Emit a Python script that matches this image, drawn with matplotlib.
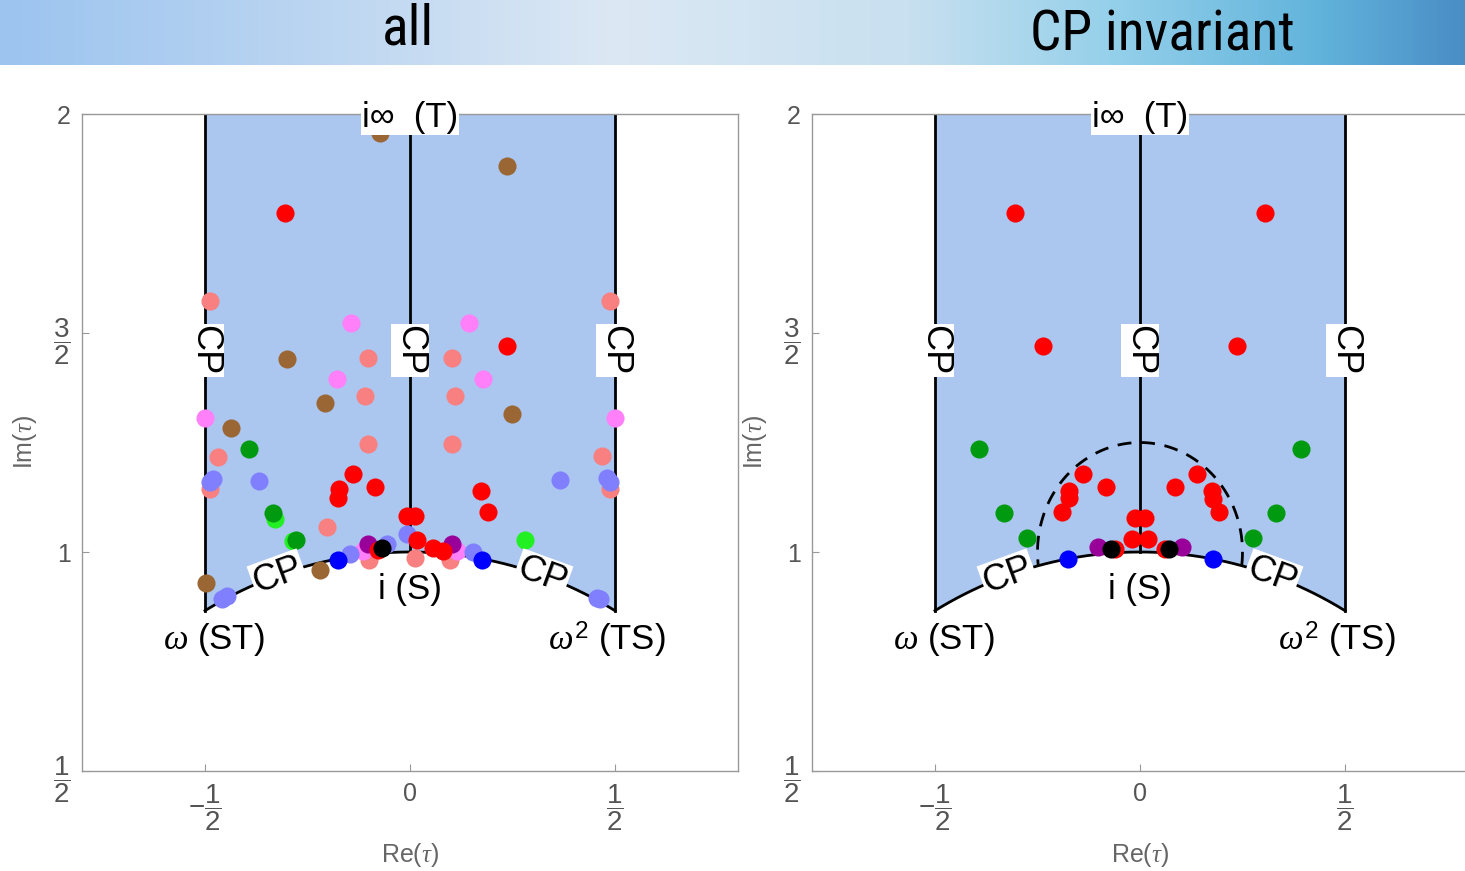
import matplotlib
matplotlib.use('Agg')
import matplotlib.pyplot as plt
import numpy as np
from matplotlib.colors import LinearSegmentedColormap

plt.rcParams['font.family'] = ['Liberation Sans', 'DejaVu Sans']
plt.rcParams['mathtext.fontset'] = 'custom'
plt.rcParams['mathtext.rm'] = 'Liberation Sans'
plt.rcParams['mathtext.it'] = 'Liberation Serif:italic'

# titles of the two panels
titles = ['all', 'CP invariant']

# tick positions and labels
x_ticks = [-0.5, 0, 0.5]
x_ticklabels = [r'$-\dfrac{1}{2}$', '0', r'$\dfrac{1}{2}$']
y_ticks = [0.5, 1, 1.5, 2]
y_ticklabels = [r'$\dfrac{1}{2}$', '1', r'$\dfrac{3}{2}$', '2']

# points of the "all" panel, one list per colour (Re tau, Im tau)
all_salmon = [(-0.488, 1.572), (0.488, 1.572), (-0.102, 1.442), (0.102, 1.442),
              (-0.110, 1.357), (0.110, 1.357), (-0.102, 1.247), (0.102, 1.247),
              (-0.468, 1.217), (0.468, 1.220), (-0.488, 1.144), (0.488, 1.144),
              (-0.202, 1.057), (-0.100, 0.982), (0.012, 0.986), (0.098, 0.982)]
all_pink = [(-0.144, 1.522), (0.144, 1.522), (-0.178, 1.396), (0.178, 1.396),
            (-0.5, 1.307), (0.5, 1.307), (-0.114, 1.003), (0.114, 1.003)]
all_brown = [(-0.073, 1.957), (0.237, 1.881), (-0.300, 1.440), (-0.207, 1.341),
             (0.249, 1.314), (-0.437, 1.284), (-0.220, 0.959), (-0.498, 0.929)]
all_lime = [(-0.330, 1.076), (-0.285, 1.024), (0.280, 1.027)]
all_green = [(-0.393, 1.236), (-0.334, 1.089), (-0.278, 1.027)]
all_lightblue = [(-0.488, 1.160), (-0.480, 1.167), (-0.368, 1.162), (0.366, 1.165),
                 (0.488, 1.160), (0.480, 1.168), (-0.007, 1.041), (-0.056, 1.018),
                 (-0.146, 0.995), (0.154, 1.000), (-0.459, 0.892), (-0.446, 0.899),
                 (0.456, 0.895), (0.463, 0.893)]
all_blue = [(-0.176, 0.982), (0.176, 0.982)]
all_purple = [(-0.102, 1.018), (0.102, 1.018)]
all_red = [(-0.305, 1.773), (0.237, 1.471), (-0.139, 1.178), (-0.085, 1.149),
           (-0.173, 1.144), (-0.176, 1.124), (0.173, 1.140), (0.190, 1.092),
           (-0.007, 1.082), (0.012, 1.082), (0.017, 1.027), (-0.078, 1.005),
           (0.056, 1.009), (0.080, 1.002)]
all_black = [(-0.068, 1.009)]

# points of the "CP invariant" panel
cp_green = [(-0.393, 1.236), (0.393, 1.236), (-0.332, 1.089), (0.332, 1.089),
            (-0.276, 1.032), (0.276, 1.032)]
cp_blue = [(-0.176, 0.984), (0.178, 0.984)]
cp_purple = [(-0.102, 1.011), (0.102, 1.011)]
cp_red = [(-0.305, 1.773), (0.305, 1.773), (-0.237, 1.471), (0.237, 1.471),
          (-0.139, 1.178), (0.139, 1.178), (-0.173, 1.140), (0.176, 1.140),
          (-0.173, 1.124), (0.178, 1.122), (-0.190, 1.092), (0.193, 1.092),
          (-0.083, 1.149), (0.085, 1.149), (-0.012, 1.078), (0.012, 1.078),
          (-0.020, 1.030), (0.020, 1.030), (-0.062, 1.007), (0.062, 1.007)]
cp_black = [(-0.071, 1.007), (0.071, 1.007)]

# dashed circle around i in the CP panel
circle_center = 1.0
circle_radius = 0.25

all_layers = [(all_salmon, '#f88080'), (all_pink, '#ff80f8'), (all_brown, '#9a6633'),
              (all_lime, '#22f022'), (all_green, '#009a10'), (all_lightblue, '#8080ff'),
              (all_blue, '#0000ff'), (all_purple, '#990099'), (all_red, '#ff0000'),
              (all_black, '#000000')]
cp_layers = [(cp_green, '#009a10'), (cp_blue, '#0000ff'), (cp_purple, '#990099'),
             (cp_red, '#ff0000'), (cp_black, '#000000')]

title_fonts = ['Liberation Sans Narrow', 'Roboto Condensed', 'Open Sans Condensed',
               'DejaVu Sans Condensed', 'DejaVu Sans']

fig = plt.figure(figsize=(14.65, 8.71), dpi=100)

# header banner
banner = fig.add_axes([0, 1 - 65 / 871, 1, 65 / 871])
cmap = LinearSegmentedColormap.from_list('banner', [
    (0.0, '#9cc4ef'), (0.2, '#b9d4f1'), (0.42, '#dce8f4'), (0.62, '#c8e0f0'),
    (0.76, '#95d0ea'), (0.9, '#62b4dc'), (1.0, '#4a8ec6')])
banner.imshow(np.linspace(0, 1, 512)[None, :], aspect='auto', cmap=cmap,
              extent=[0, 1, 0, 1])
banner.set_xlim(0, 1)
banner.set_ylim(0, 1)
banner.axis('off')
banner.text(408 / 1465, 0.55, titles[0], ha='center', va='center', fontsize=40,
            family=title_fonts)
banner.text(1162 / 1465, 0.46, titles[1], ha='center', va='center', fontsize=40,
            family=title_fonts)

ax1 = fig.add_axes([82 / 1465, 1 - 771 / 871, 656 / 1465, 657 / 871])
ax2 = fig.add_axes([812 / 1465, 1 - 771 / 871, 656 / 1465, 657 / 871])


def draw_domain(ax):
    t = np.linspace(np.pi / 3, 2 * np.pi / 3, 200)
    arc_x = np.cos(t)
    arc_y = np.sin(t)
    px = np.concatenate([[0.5], arc_x, [-0.5]])
    py = np.concatenate([[2], arc_y, [2]])
    ax.fill(px, py, color='#abc6ef', lw=0, zorder=1)
    ax.plot(arc_x, arc_y, color='black', lw=2, zorder=2)
    ax.plot([-0.5, -0.5], [np.sqrt(3) / 2, 2], color='black', lw=2, zorder=2)
    ax.plot([0.5, 0.5], [np.sqrt(3) / 2, 2], color='black', lw=2, zorder=2)
    ax.plot([0, 0], [1, 2], color='black', lw=2, zorder=2)

    box = dict(facecolor='white', edgecolor='none', pad=1)
    for xc in [-0.5, 0, 0.5]:
        ax.text(xc, 1.46, 'CP', rotation=-90, ha='center', va='center',
                fontsize=26, bbox=box, zorder=6)
    ax.text(-0.322, 0.947, 'CP', rotation=20, ha='center', va='center',
            fontsize=26, bbox=box, zorder=6)
    ax.text(0.322, 0.947, 'CP', rotation=-20, ha='center', va='center',
            fontsize=26, bbox=box, zorder=6)
    ax.text(0, 1.993, 'i\u221e  (T)', ha='center', va='center', fontsize=25,
            bbox=dict(facecolor='white', edgecolor='none', pad=1), zorder=6)
    ax.text(0, 0.915, 'i (S)', ha='center', va='center', fontsize=25, zorder=6)
    ax.text(-0.478, 0.80, r'$\omega$ (ST)', ha='center', va='center', fontsize=25, zorder=6)
    ax.text(0.48, 0.80, r'$\omega^2$ (TS)', ha='center', va='center', fontsize=25, zorder=6)

    ax.set_xlim(-0.8, 0.8)
    ax.set_ylim(0.5, 2)
    ax.set_xticks(x_ticks)
    ax.set_xticklabels(x_ticklabels)
    ax.set_yticks(y_ticks)
    ax.set_yticklabels(y_ticklabels)
    ax.tick_params(direction='in', length=5, width=0.8, color='#999999',
                   labelcolor='#555555', labelsize=18, pad=8)
    for lab in ax.get_xticklabels() + ax.get_yticklabels():
        if 'frac' in lab.get_text():
            lab.set_fontsize(20)
    for s in ax.spines.values():
        s.set_color('#999999')
        s.set_linewidth(1)
    ax.set_xlabel(r'Re($\tau$)', fontsize=18, color='#666666')
    ax.set_ylabel(r'Im($\tau$)', fontsize=18, color='#666666')
    ax.xaxis.set_label_coords(0.5, -0.106)
    ax.yaxis.set_label_coords(-0.066, 0.5)


def draw_points(ax, layers):
    for pts, col in layers:
        xs = [p[0] for p in pts]
        ys = [p[1] for p in pts]
        ax.scatter(xs, ys, s=170, color=col, linewidths=0, zorder=4)


draw_domain(ax1)
draw_points(ax1, all_layers)

draw_domain(ax2)
# dashed arc: circle around i, starting where it meets the unit circle
y_meet = (1 + circle_center ** 2 - circle_radius ** 2) / (2 * circle_center)
phi0 = np.arcsin((y_meet - circle_center) / circle_radius)
phi = np.linspace(phi0, np.pi - phi0, 300)
ax2.plot(circle_radius * np.cos(phi), circle_center + circle_radius * np.sin(phi),
         color='black', lw=2, ls=(0, (5, 3.5)), zorder=3)
draw_points(ax2, cp_layers)

fig.savefig('out.png', dpi=100)
